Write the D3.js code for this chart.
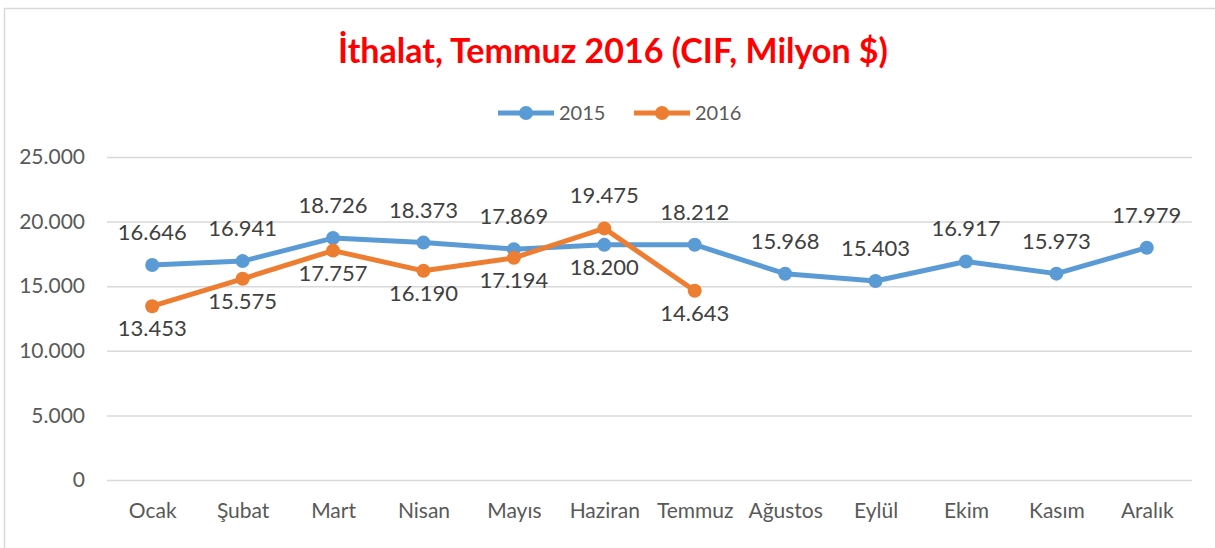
<!DOCTYPE html>
<html>
<head>
<meta charset="utf-8">
<script src="https://cdn.jsdelivr.net/npm/d3@7"></script>
<style>
  body { margin: 0; background: #fff; }
  svg { display: block; font-family: Lato, "Open Sans", sans-serif; }
</style>
</head>
<body>
<div id="chart"></div>
<script>
const months = ["Ocak", "Şubat", "Mart", "Nisan", "Mayıs", "Haziran", "Temmuz", "Ağustos", "Eylül", "Ekim", "Kasım", "Aralık"];
const values2015 = [16646, 16941, 18726, 18373, 17869, 18200, 18212, 15968, 15403, 16917, 15973, 17979];
const values2016 = [13453, 15575, 17757, 16190, 17194, 19475, 14643];
const yTicks = [0, 5000, 10000, 15000, 20000, 25000];
const seriesNames = ["2015", "2016"];

const width = 1215, height = 548;
const margin = { top: 157, right: 23, bottom: 68, left: 107 };
const innerWidth = width - margin.left - margin.right;
const innerHeight = height - margin.top - margin.bottom;

const trFmt = d3.formatLocale({ decimal: ",", thousands: ".", grouping: [3], currency: ["", ""] }).format(",.0f");

const svg = d3.select("#chart").append("svg")
  .attr("width", width)
  .attr("height", height);

// outer frame (only top and left edges are inside the picture)
svg.append("path")
  .attr("d", `M4.5,${height} V8.5 H${width}`)
  .attr("fill", "none")
  .attr("stroke", "#d9d9d9")
  .attr("stroke-width", 1.5);

// title
svg.append("text")
  .attr("x", 613)
  .attr("y", 63)
  .attr("text-anchor", "middle")
  .attr("font-size", "34px")
  .attr("font-weight", "bold")
  .attr("fill", "#ff0000")
  .text("İthalat, Temmuz 2016 (CIF, Milyon $)");

const chart = svg.append("g")
  .attr("transform", `translate(${margin.left},${margin.top})`);

const x = d3.scalePoint()
  .domain(months)
  .range([0, innerWidth])
  .padding(0.5);

const y = d3.scaleLinear()
  .domain([0, 25000])
  .range([innerHeight, 0]);

const colors = d3.scaleOrdinal()
  .domain(seriesNames)
  .range(["#5b9bd5", "#ed7d31"]);

// gridlines
chart.append("g")
  .call(d3.axisLeft(y).tickValues(yTicks).tickSize(-innerWidth).tickFormat(""))
  .call(g => g.select(".domain").remove())
  .call(g => g.selectAll("line").attr("stroke", "#d9d9d9").attr("stroke-width", 1.5));

// y axis labels
chart.append("g")
  .call(d3.axisLeft(y).tickValues(yTicks).tickSize(0).tickPadding(22).tickFormat(trFmt))
  .attr("font-size", 21)
  .attr("font-family", "Lato, sans-serif")
  .call(g => g.select(".domain").remove())
  .call(g => g.selectAll("text").attr("fill", "#595959"));

// x axis labels
chart.append("g")
  .attr("transform", `translate(0,${innerHeight})`)
  .call(d3.axisBottom(x).tickSize(0).tickPadding(23))
  .attr("font-size", 21)
  .attr("font-family", "Lato, sans-serif")
  .call(g => g.select(".domain").remove())
  .call(g => g.selectAll("text").attr("fill", "#595959"));

const series = [
  { name: "2015", values: values2015 },
  { name: "2016", values: values2016 }
];

const line = d3.line()
  .x((d, i) => x(months[i]))
  .y(d => y(d));

series.forEach(s => {
  chart.append("path")
    .datum(s.values)
    .attr("fill", "none")
    .attr("stroke", colors(s.name))
    .attr("stroke-width", 5)
    .attr("stroke-linejoin", "round")
    .attr("stroke-linecap", "round")
    .attr("d", line);

  chart.selectAll(null)
    .data(s.values)
    .join("circle")
    .attr("cx", (d, i) => x(months[i]))
    .attr("cy", d => y(d))
    .attr("r", 7)
    .attr("fill", colors(s.name));
});

// data labels: 2015 above, 2016 below, swapped at Haziran
series.forEach(s => {
  chart.selectAll(null)
    .data(s.values)
    .join("text")
    .attr("x", (d, i) => x(months[i]))
    .attr("y", (d, i) => {
      const above = (s.name === "2015") !== (months[i] === "Haziran");
      return y(d) + (above ? -25 : 30);
    })
    .attr("text-anchor", "middle")
    .attr("font-size", "22px")
    .attr("fill", "#404040")
    .text(d => trFmt(d));
});

// legend
const legend = svg.append("g")
  .attr("transform", "translate(498,113)");

seriesNames.forEach((name, i) => {
  const row = legend.append("g")
    .attr("transform", `translate(${i * 136},0)`);
  row.append("line")
    .attr("x1", 0).attr("x2", 56)
    .attr("stroke", colors(name))
    .attr("stroke-width", 5);
  row.append("circle")
    .attr("cx", 28).attr("r", 7)
    .attr("fill", colors(name));
  row.append("text")
    .attr("x", 61)
    .attr("y", 7)
    .attr("font-size", "20px")
    .attr("fill", "#595959")
    .text(name);
});
</script>
</body>
</html>
